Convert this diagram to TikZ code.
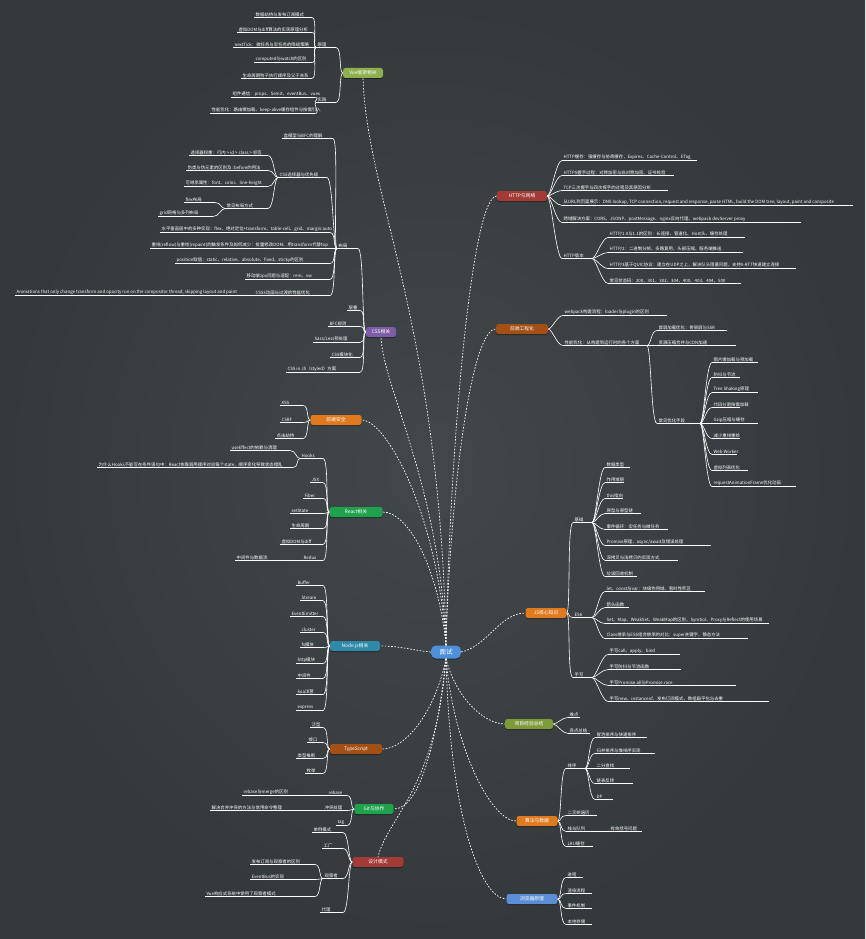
\documentclass[tikz,border=0pt]{standalone}
\usepackage{fontspec}
\setmainfont{Noto Sans CJK SC}
\usetikzlibrary{shadows}
\definecolor{bgin}{HTML}{41474A}
\definecolor{bgout}{HTML}{34393C}
\definecolor{cgreenL}{HTML}{8DB04C}
\definecolor{cpurple}{HTML}{7D5EA6}
\definecolor{cred}{HTML}{A23A36}
\definecolor{cbrown}{HTML}{A34F16}
\definecolor{corange}{HTML}{E07A1F}
\definecolor{colive}{HTML}{7E9B3C}
\definecolor{cblue}{HTML}{5A8FD6}
\definecolor{cgreen}{HTML}{1EA34C}
\definecolor{cteal}{HTML}{2E8AA8}
\definecolor{ccenter}{HTML}{4E8FDA}
\newcommand\mmLeaf[5]{%
  \coordinate (#1-l) at (#2,#4+2.5);
  \coordinate (#1-r) at (#3,#4+2.5);
  \node[leaf] (#1) at (#2+1,#4+2.3) {#5};
  \draw[uline] (#1-l) -- (#1-r);
}
\newcommand\mmBr[6]{\node[branch, fill=#5, minimum width=#4pt] (#1) at (#2,#3) {#6};}
\newcommand\mmR[2]{\draw[conn] (#1) .. controls +(4,0) and +(-6,0) .. (#2);}
\newcommand\mmL[2]{\draw[conn] (#1) .. controls +(-4,0) and +(6,0) .. (#2);}
\begin{document}
\begin{tikzpicture}[x=1pt,y=-1pt,
  leaf/.style={anchor=south west, inner sep=0.4pt, text=white, font=\fontsize{4.4}{5}\selectfont},
  uline/.style={draw=white, line width=0.6pt},
  conn/.style={draw=white, line width=0.6pt},
  main/.style={draw=white, line width=0.7pt, dash pattern=on 1.6pt off 1.6pt},
  branch/.style={rounded corners=2.5pt, minimum height=10pt, inner sep=1pt, text=white,
    font=\fontsize{4.8}{5}\selectfont,
    drop shadow={shadow xshift=0pt, shadow yshift=-1pt, opacity=0.4, fill=black}},
  centerbox/.style={rounded corners=5pt, fill=ccenter, minimum width=30pt, minimum height=13pt,
    text=white, font=\fontsize{6.5}{7}\selectfont,
    drop shadow={shadow xshift=0pt, shadow yshift=-1pt, opacity=0.4, fill=black}},
]
\useasboundingbox (0,0) rectangle (865,939);
\shade[inner color=bgin, outer color=bgout] (0,0) rectangle (865,939);

% ===== centre
\node[centerbox] (c) at (446,652) {面试};

% ===== top green branch
\mmBr{tg}{363}{73}{40}{cgreenL}{Vue框架相关}
\mmLeaf{tgA}{316}{336}{45}{原理}
\mmLeaf{tgB}{316}{336}{100}{实践}
\mmL{tg.west}{tgA-r}\mmL{tg.west}{tgB-r}
\mmLeaf{tga1}{254}{312}{15}{数据劫持与发布订阅模式}
\mmLeaf{tga2}{237}{312}{30}{虚拟DOM与diff算法的实现原理分析}
\mmLeaf{tga3}{233}{312}{45}{nextTick：微任务与宏任务的降级策略}
\mmLeaf{tga4}{254}{312}{60}{computed与watch的区别}
\mmLeaf{tga5}{241}{312}{76}{生命周期钩子执行顺序及父子关系}
\foreach \k in {1,...,5}{\mmL{tgA-l}{tga\k-r}}
\mmLeaf{tgb1}{231}{315}{95}{组件通信：props、\$emit、eventBus、vuex}
\mmLeaf{tgb2}{210}{315}{111}{性能优化：路由懒加载、keep-alive缓存组件与按需引入}
\mmL{tgB-l}{tgb1-r}\mmL{tgB-l}{tgb2-r}

% ===== purple branch
\mmBr{pu}{381}{332}{30}{cpurple}{CSS相关}
\mmLeaf{puP}{337}{358}{246}{布局}
\mmL{pu.west}{puP-r}
\mmLeaf{pp1}{282}{333}{136}{盒模型与BFC的理解}
\mmLeaf{ppS}{278}{327}{175}{CSS选择器与优先级}
\mmLeaf{ps1}{189}{268}{153}{选择器权重：行内 > id > class > 标签}
\mmLeaf{ps2}{186}{268}{168}{伪类与伪元素的区别及::before的用法}
\mmLeaf{ps3}{184}{268}{184}{可继承属性：font、color、line-height}
\mmLeaf{psT}{225}{268}{206}{常见布局方式}
\mmLeaf{pt1}{184}{215}{200}{flex布局}
\mmLeaf{pt2}{158}{213}{214}{grid网格与多列布局}
\mmL{ppS-l}{ps1-r}\mmL{ppS-l}{ps2-r}\mmL{ppS-l}{ps3-r}\mmL{ppS-l}{psT-r}
\mmL{psT-l}{pt1-r}\mmL{psT-l}{pt2-r}
\mmLeaf{pp2}{160}{330}{230}{水平垂直居中的多种实现：flex、绝对定位+transform、table-cell、grid、margin:auto}
\mmLeaf{pp3}{150}{333}{246}{重排(reflow)与重绘(repaint)的触发条件及如何减少：批量修改DOM、用transform代替top}
\mmLeaf{pp4}{175}{330}{261}{position取值：static、relative、absolute、fixed、sticky的区别}
\mmLeaf{pp5}{245}{330}{277}{移动端1px问题与适配：rem、vw}
\mmLeaf{pp6}{254}{330}{293}{CSS3动画与过渡的性能优化}
\mmLeaf{pp6a}{15}{245}{293}{Animations that only change transform and opacity run on the compositor thread, skipping layout and paint}
\mmL{pp6-l}{pp6a-r}
\foreach \n in {pp1,ppS,pp2,pp3,pp4,pp5,pp6}{\mmL{puP-l}{\n-r}}
\mmLeaf{pq1}{347}{360}{308}{层叠}
\mmLeaf{pq2}{328}{360}{324}{BFC规则}
\mmLeaf{pq3}{313}{360}{340}{Sass/Less预处理}
\mmLeaf{pq4}{330}{360}{355}{CSS模块化}
\mmLeaf{pq5}{286}{360}{370}{CSS in JS（styled）方案}
\foreach \n in {pq1,pq2,pq3,pq4,pq5}{\mmL{pu.west}{\n-r}}

% ===== red branch (right)
\mmBr{rd}{522}{196}{50}{cred}{HTTP与网络}
\mmLeaf{rr1}{562}{697}{158}{HTTP缓存：强缓存与协商缓存，Expires、Cache-Control、ETag}
\mmLeaf{rr2}{562}{674}{173}{HTTPS握手过程：对称加密与非对称加密、证书校验}
\mmLeaf{rr3}{562}{668}{188}{TCP三次握手与四次挥手的过程及其原因分析}
\mmLeaf{rr4}{562}{853}{203}{从URL到页面展示：DNS lookup, TCP connection, request and response, parse HTML, build the DOM tree, layout, paint and composite}
\mmLeaf{rr5}{562}{801}{220}{跨域解决方案：CORS、JSONP、postMessage、nginx反向代理、webpack devServer proxy}
\mmLeaf{rrS}{562}{592}{256}{HTTP版本}
\foreach \n in {rr1,rr2,rr3,rr4,rr5,rrS}{\mmR{rd.east}{\n-l}}
\mmLeaf{rs1}{608}{745}{235}{HTTP/1.0与1.1的区别：长连接、管道化、Host头、缓存处理}
\mmLeaf{rs2}{608}{743}{250}{HTTP/2：二进制分帧、多路复用、头部压缩、服务端推送}
\mmLeaf{rs3}{608}{796}{266}{HTTP/3基于QUIC协议：建立在UDP之上，解决队头阻塞问题，支持0-RTT快速建立连接}
\mmLeaf{rs4}{608}{741}{281}{常见状态码：200、301、302、304、400、403、404、500}
\foreach \n in {rs1,rs2,rs3,rs4}{\mmR{rrS-r}{\n-l}}

% ===== brown branch (right)
\mmBr{bw}{522}{329}{52}{cbrown}{前端工程化}
\mmLeaf{bw1}{563}{667}{313}{webpack构建流程：loader与plugin的区别}
\mmLeaf{bwS}{563}{647}{343}{性能优化：从构建到运行时的各个方面}
\mmR{bw.east}{bw1-l}\mmR{bw.east}{bwS-l}
\mmLeaf{bs1}{657}{727}{328}{首屏加载优化：骨架屏与SSR}
\mmLeaf{bs2}{657}{736}{343}{资源压缩合并与CDN加速}
\mmLeaf{bsT}{657}{700}{421}{常见优化手段}
\foreach \n in {bs1,bs2,bsT}{\mmR{bwS-r}{\n-l}}
\mmLeaf{bt1}{712}{758}{360}{图片懒加载与预加载}
\mmLeaf{bt2}{712}{740}{375}{防抖与节流}
\mmLeaf{bt3}{712}{758}{390}{Tree Shaking原理}
\mmLeaf{bt4}{712}{740}{405}{代码分割按需加载}
\mmLeaf{bt5}{712}{758}{421}{Gzip压缩与缓存}
\mmLeaf{bt6}{712}{740}{436}{减少重排重绘}
\mmLeaf{bt7}{712}{737}{452}{Web Worker}
\mmLeaf{bt8}{712}{748}{468}{虚拟列表优化}
\mmLeaf{bt9}{712}{796}{484}{requestAnimationFrame优化动画}
\foreach \k in {1,...,9}{\mmR{bsT-r}{bt\k-l}}

% ===== orange branch (right)
\mmBr{og}{546}{613}{41}{corange}{JS核心知识}
\mmLeaf{ogA}{573}{592}{520}{基础}
\mmLeaf{ogB}{573}{592}{615}{ES6}
\mmLeaf{ogC}{573}{592}{675}{手写}
\mmR{og.east}{ogA-l}\mmR{og.east}{ogB-l}\mmR{og.east}{ogC-l}
\mmLeaf{oa1}{605}{630}{465}{数据类型}
\mmLeaf{oa2}{605}{624}{480}{作用域链}
\mmLeaf{oa3}{605}{623}{496}{this指向}
\mmLeaf{oa4}{605}{641}{511}{原型与原型链}
\mmLeaf{oa5}{605}{668}{527}{事件循环：宏任务与微任务}
\mmLeaf{oa6}{605}{711}{543}{Promise原理，async/await及错误处理}
\mmLeaf{oa7}{605}{678}{558}{深拷贝与浅拷贝的实现方式}
\mmLeaf{oa8}{605}{637}{574}{垃圾回收机制}
\foreach \k in {1,...,8}{\mmR{ogA-r}{oa\k-l}}
\mmLeaf{ob1}{605}{705}{589}{let、const与var：块级作用域、暂时性死区}
\mmLeaf{ob2}{605}{629}{605}{箭头函数}
\mmLeaf{ob3}{605}{769}{621}{Set、Map、WeakSet、WeakMap的区别，Symbol、Proxy与Reflect的使用场景}
\mmLeaf{ob4}{605}{748}{636}{Class继承与ES5组合继承的对比：super关键字、静态方法}
\foreach \k in {1,...,4}{\mmR{ogB-r}{ob\k-l}}
\mmLeaf{oc1}{608}{680}{652}{手写call、apply、bind}
\mmLeaf{oc2}{608}{681}{667}{手写防抖与节流函数}
\mmLeaf{oc3}{608}{736}{683}{手写Promise.all与Promise.race}
\mmLeaf{oc4}{608}{769}{699}{手写new、instanceof、发布订阅模式、数组扁平化与去重}
\foreach \k in {1,...,4}{\mmR{ogC-r}{oc\k-l}}

% ===== olive branch (right)
\mmBr{ol}{529}{724}{48}{colive}{项目经验总结}
\mmLeaf{ol1}{568}{580}{715}{难点}
\mmLeaf{ol2}{568}{590}{731}{亮点总结}
\mmR{ol.east}{ol1-l}\mmR{ol.east}{ol2-l}

% ===== orange branch 2 (right)
\mmBr{o2}{537}{821}{41}{corange}{算法与数据}
\mmLeaf{o2S}{566}{585}{766}{排序}
\mmLeaf{o21}{566}{597}{813}{二叉树遍历}
\mmLeaf{o22}{566}{593}{829}{栈与队列}
\mmLeaf{o23}{566}{593}{844}{LRU缓存}
\foreach \n in {o2S,o21,o22,o23}{\mmR{o2.east}{\n-l}}
\mmLeaf{os1}{595}{647}{735}{冒泡排序与快速排序}
\mmLeaf{os2}{595}{655}{751}{归并排序与堆排序实现}
\mmLeaf{os3}{595}{630}{766}{二分查找}
\mmLeaf{os4}{595}{633}{781}{链表反转}
\mmLeaf{os5}{595}{613}{797}{DP}
\foreach \k in {1,...,5}{\mmR{o2S-r}{os\k-l}}
\mmLeaf{o22a}{609}{642}{829}{有效括号问题}
\mmR{o22-r}{o22a-l}

% ===== blue branch (right)
\mmBr{bl}{532}{899}{51}{cblue}{浏览器原理}
\mmLeaf{bl1}{566}{583}{875}{进程}
\mmLeaf{bl2}{566}{592}{891}{渲染流程}
\mmLeaf{bl3}{566}{592}{906}{事件机制}
\mmLeaf{bl4}{566}{592}{922}{本地存储}
\foreach \k in {1,...,4}{\mmR{bl.east}{bl\k-l}}

% ===== left orange
\mmBr{lo}{336}{420}{51}{corange}{前端安全}
\mmLeaf{lo1}{280}{303}{403}{XSS}
\mmLeaf{lo2}{280}{303}{420}{CSRF}
\mmLeaf{lo3}{275}{303}{436}{点击劫持}
\foreach \k in {1,...,3}{\mmL{lo.west}{lo\k-r}}

% ===== left green
\mmBr{gr}{356}{512}{53}{cgreen}{React相关}
\mmLeaf{grA}{300}{323}{456}{Hooks}
\mmLeaf{gr2}{310}{323}{480}{JSX}
\mmLeaf{gr3}{303}{323}{496}{Fiber}
\mmLeaf{gr4}{290}{323}{511}{setState}
\mmLeaf{gr5}{290}{323}{526}{生命周期}
\mmLeaf{gr6}{280}{323}{542}{虚拟DOM与diff}
\mmLeaf{grB}{302}{323}{558}{Redux}
\foreach \n in {grA,gr2,gr3,gr4,gr5,gr6,grB}{\mmL{gr.west}{\n-r}}
\mmLeaf{ga1}{230}{290}{448}{useEffect的依赖与清理}
\mmLeaf{ga2}{97}{293}{465}{为什么Hooks不能写在条件语句中：React依靠调用顺序对应每个state，顺序变化导致状态错乱}
\mmL{grA-l}{ga1-r}\mmL{grA-l}{ga2-r}
\mmLeaf{gb1}{235}{290}{558}{中间件与数据流}
\mmL{grB-l}{gb1-r}

% ===== teal
\mmBr{te}{355}{646}{50}{cteal}{Node.js相关}
\mmLeaf{te1}{296}{323}{583}{Buffer}
\mmLeaf{te2}{300}{323}{598}{Stream}
\mmLeaf{te3}{290}{323}{614}{EventEmitter}
\mmLeaf{te4}{300}{323}{630}{cluster}
\mmLeaf{te5}{300}{323}{645}{fs模块}
\mmLeaf{te6}{296}{323}{661}{http模块}
\mmLeaf{te7}{296}{323}{676}{中间件}
\mmLeaf{te8}{296}{323}{692}{koa洋葱}
\mmLeaf{te9}{296}{323}{708}{express}
\foreach \k in {1,...,9}{\mmL{te.west}{te\k-r}}

% ===== brown left
\mmBr{tb}{356}{749}{52}{cbrown}{TypeScript}
\mmLeaf{tb1}{310}{323}{725}{泛型}
\mmLeaf{tb2}{307}{323}{740}{接口}
\mmLeaf{tb3}{296}{323}{756}{类型推断}
\mmLeaf{tb4}{305}{323}{771}{枚举}
\foreach \k in {1,...,4}{\mmL{tb.west}{tb\k-r}}

% ===== green 2
\mmBr{g2}{374}{809}{39}{cgreen}{Git与协作}
\mmLeaf{g2A}{327}{347}{793}{rebase}
\mmLeaf{g2B}{323}{347}{808}{冲突处理}
\mmLeaf{g2c}{336}{347}{823}{tag}
\foreach \n in {g2A,g2B,g2c}{\mmL{g2.west}{\n-r}}
\mmLeaf{g2a}{242}{323}{793}{rebase与merge的区别}
\mmLeaf{g2b}{210}{317}{808}{解决合并冲突的方法与常用命令整理}
\mmL{g2A-l}{g2a-r}\mmL{g2B-l}{g2b-r}

% ===== red 2
\mmBr{r2}{378}{862}{51}{cred}{设计模式}
\mmLeaf{r21}{312}{343}{830}{单例模式}
\mmLeaf{r22}{322}{343}{846}{工厂}
\mmLeaf{r2S}{323}{343}{876}{观察者}
\mmLeaf{r24}{320}{343}{910}{代理}
\foreach \n in {r21,r22,r2S,r24}{\mmL{r2.west}{\n-r}}
\mmLeaf{r2a}{250}{315}{862}{发布订阅与观察者的区别}
\mmLeaf{r2b}{250}{315}{877}{EventBus的实现}
\mmLeaf{r2c}{205}{315}{894}{Vue响应式系统中使用了观察者模式}
\foreach \n in {r2a,r2b,r2c}{\mmL{r2S-l}{\n-r}}

% ===== main connectors
\draw[main] (c.north) .. controls +(4,-200) and +(-25,0) .. (rd.west);
\draw[main] (c.north) .. controls +(4,-150) and +(-25,0) .. (bw.west);
\draw[main] (c.east) .. controls +(25,-5) and +(-25,0) .. (og.west);
\draw[main] (c.south) .. controls +(10,40) and +(-20,0) .. (ol.west);
\draw[main] (c.south) .. controls +(8,90) and +(-25,0) .. (o2.west);
\draw[main] (c.south) .. controls +(4,160) and +(-25,0) .. (bl.west);
\draw[main] (c.north) .. controls +(-6,-320) and +(4,120) .. (tg.south);
\draw[main] (c.north) .. controls +(-6,-160) and +(2,50) .. (pu.south);
\draw[main] (c.north) .. controls +(-8,-130) and +(25,0) .. (lo.east);
\draw[main] (c.north) .. controls +(-8,-80) and +(25,0) .. (gr.east);
\draw[main] (c.west) .. controls +(-20,-2) and +(20,0) .. (te.east);
\draw[main] (c.south) .. controls +(-10,50) and +(25,0) .. (tb.east);
\draw[main] (c.south) .. controls +(-10,90) and +(25,0) .. (g2.east);
\draw[main] (c.south) .. controls +(-10,130) and +(10,-40) .. (r2.north);
\end{tikzpicture}
\end{document}
